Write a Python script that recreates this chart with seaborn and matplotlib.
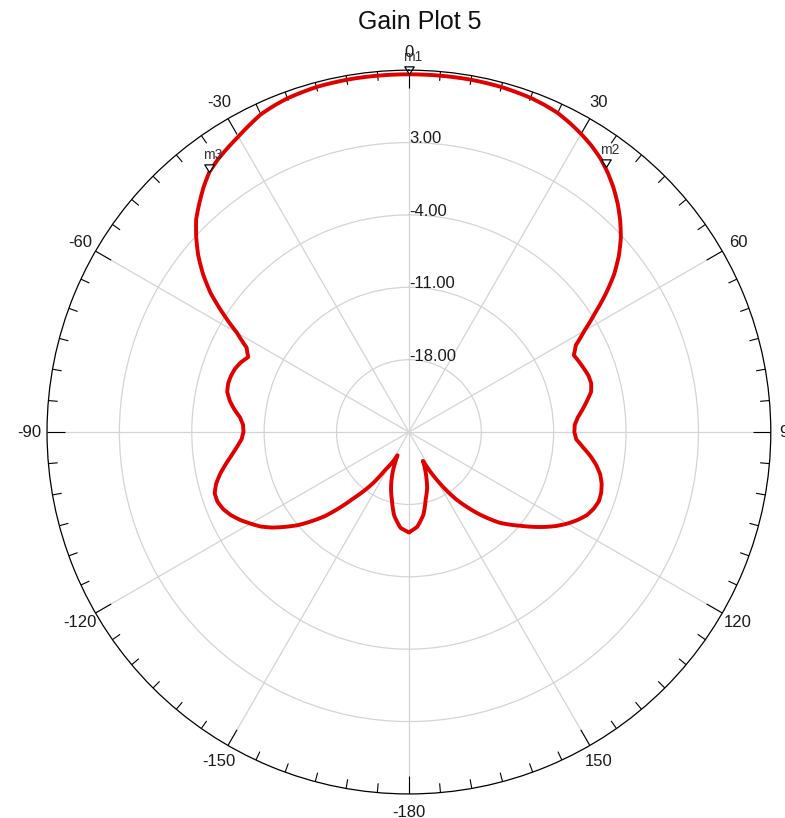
import numpy as np
import matplotlib
matplotlib.use("Agg")
import matplotlib.pyplot as plt
import seaborn as sns

# Gain pattern (deg, dB)
angles_deg = [-180, -175, -170, -166, -162, -158, -154, -148, -145, -140, -135, -130,
              -125, -122.5, -120, -117.5, -115, -112.5, -110, -107.5, -105, -102.5, -100,
              -97.5, -95, -92.5, -90, -87.5, -85, -82.5, -80, -77.5, -75, -72.5, -70,
              -67.5, -65, -62.5, -60, -57.5, -55, -52.5, -50, -47.5, -45, -42.5, -40,
              -37.5, -35, -32.5, -30, -27.5, -25, -22.5, -20, -15, -10, -5, 0,
              5, 10, 15, 20, 22.5, 25, 27.5, 30, 32.5, 35, 37.5, 40, 42.5, 45, 47.5,
              50, 52.5, 55, 57.5, 60, 62.5, 65, 67.5, 70, 72.5, 75, 77.5, 80, 82.5,
              85, 87.5, 90, 92.5, 95, 97.5, 100, 102.5, 105, 107.5, 110, 112.5, 115,
              117.5, 120, 122.5, 125, 130, 135, 140, 145, 150, 154,
              158, 162, 166, 170, 175, 180]
gain_db = [-15.3, -15.7, -16.8, -18.2, -19.4, -20.8, -22.5, -20.7, -19.0, -16.6, -13.5, -11.0,
           -8.9, -8.0, -7.3, -6.6, -6.0, -5.55, -5.3, -5.3, -5.7, -6.3, -7.0,
           -7.7, -8.3, -8.8, -9.0, -8.95, -8.6, -7.95, -7.4, -7.0, -6.9, -6.95, -7.1,
           -7.4, -7.85, -7.3, -5.8, -3.7, -1.6, 0.1, 1.6, 2.9, 4.1, 5.0, 5.9,
           6.7, 7.2, 7.6, 8.0, 8.45, 8.9, 9.15, 9.35, 9.55, 9.6, 9.6, 9.6,
           9.6, 9.6, 9.55, 9.4, 9.25, 9.05, 8.7, 8.3, 7.85, 7.3, 6.6, 5.8, 4.9, 3.9, 2.8,
           1.5, 0.0, -1.8, -3.7, -5.4, -6.8, -7.4, -7.2, -7.0, -6.8, -6.75, -6.95, -7.5, -8.05,
           -8.6, -8.95, -9.0, -8.8, -8.1, -7.3, -6.6, -6.05, -5.7, -5.5, -5.45, -5.65, -6.0,
           -6.6, -7.3, -8.1, -9.0, -10.9, -12.6, -14.8, -17.1, -19.8, -21.9,
           -20.6, -19.3, -18.3, -16.9, -15.8, -15.3]

# markers m1..m3
marker_names = ["m1", "m2", "m3"]
marker_deg = [0, 36.6, -37.6]
marker_db = [9.6, 6.9, 6.7]

ring_values = [-18, -11, -4, 3]
ring_labels = ["-18.00", "-11.00", "-4.00", "3.00"]
angle_ticks = [0, 30, 60, 90, 120, 150, 180, -150, -120, -90, -60, -30]
angle_labels = ["0", "30", "60", "90", "120", "150", "-180", "-150", "-120", "-90", "-60", "-30"]

R_MIN, R_MAX = -25, 10

sns.set_style("white")
plt.rcParams['font.family'] = ['Liberation Sans', 'DejaVu Sans']

fig = plt.figure(figsize=(7.85, 8.18), dpi=100)
ax = fig.add_axes([0.0599, 0.0293, 0.922, 0.885], projection='polar')
ax.set_theta_zero_location('N')
ax.set_theta_direction(-1)
ax.set_ylim(R_MIN, R_MAX)

# grid: spokes every 30 deg, rings
ax.set_thetagrids(range(0, 360, 30), labels=[])
ax.set_rgrids(ring_values, labels=[])
ax.grid(True, color='#d4d4d4', linewidth=0.9)
ax.tick_params(length=0)
ax.spines['polar'].set_color('black')
ax.spines['polar'].set_linewidth(0.9)

# outer tick marks (every 5 deg, long at 30)
minor = np.deg2rad([a for a in range(0, 360, 5) if a % 30 != 0])
major = np.deg2rad(range(0, 360, 30))
ax.vlines(minor, R_MAX - 0.9, R_MAX, color='black', linewidth=0.8)
ax.vlines(major, R_MAX - 1.75, R_MAX, color='black', linewidth=0.8)

# gain curve
theta = np.deg2rad(angles_deg)
sns.lineplot(x=theta, y=gain_db, ax=ax, sort=False, estimator=None,
             color='#e00000', linewidth=2.8)
# draw each segment along the polar grid (arc-like) instead of a straight chord
ax.lines[-1]._path._interpolation_steps = 16

# angle labels outside circle
for a, lab in zip(angle_ticks, angle_labels):
    ax.text(np.deg2rad(a), 11.75, lab, ha='center', va='center',
            fontsize=12, color='#1a1a1a', clip_on=False)

# ring labels along 0 deg spoke
for v, lab in zip(ring_values, ring_labels):
    ax.text(0.0, v + 0.35, lab, ha='left', va='center', fontsize=12, color='#1a1a1a')

# markers
tri = [(0, 0), (-0.8, 1.3), (0.8, 1.3), (0, 0)]
for name, a, v in zip(marker_names, marker_deg, marker_db):
    ax.plot([np.deg2rad(a)], [v], marker=tri, markersize=11, markerfacecolor='white',
            markeredgecolor='black', markeredgewidth=0.9, linestyle='none', clip_on=False)
    ax.annotate(name, xy=(np.deg2rad(a), v), xytext=(-6, 10), textcoords='offset pixels',
                fontsize=10, color='#333333', ha='left', va='bottom', annotation_clip=False)

fig.text(0.535, 0.973, "Gain Plot 5", ha='center', va='center', fontsize=18, color='#111111')

ax.set_xlabel("")
ax.set_ylabel("")

plt.savefig("out.png", dpi=100)
